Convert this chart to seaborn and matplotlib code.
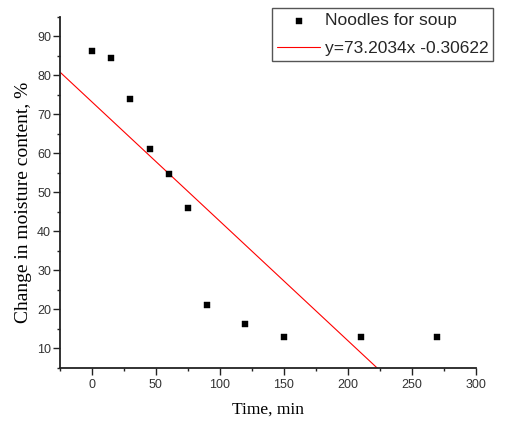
import numpy as np
import pandas as pd
import matplotlib
matplotlib.use("Agg")
import matplotlib.pyplot as plt
from matplotlib.ticker import MultipleLocator
import seaborn as sns

# Measured moisture change of soup noodles over drying time
time_min = [0, 15, 30, 45, 60, 75, 90, 120, 150, 210, 270]
moisture_change = [86.2, 84.4, 73.9, 61.2, 54.6, 45.9, 21.2, 16.1, 12.8, 12.8, 12.8]

# Linear fit parameters
fit_intercept = 73.2034
fit_slope = -0.30622
fit_label = "y=73.2034x -0.30622"
series_label = "Noodles for soup"

x_ticks = [0, 50, 100, 150, 200, 250, 300]
y_ticks = [10, 20, 30, 40, 50, 60, 70, 80, 90]

sns.set_theme(style="ticks")
plt.rcParams["font.family"] = ["Liberation Sans", "DejaVu Sans"]

fig = plt.figure(figsize=(5.07, 4.22), dpi=100)
ax = fig.add_axes([60 / 507, 1 - 367.7 / 422, (475.7 - 60) / 507, (367.7 - 17) / 422])

data = pd.DataFrame({"time": time_min, "moisture": moisture_change})
fit_x = np.array([-25.0, 300.0])
fit = pd.DataFrame({"time": fit_x, "moisture": fit_intercept + fit_slope * fit_x})

sns.lineplot(data=fit, x="time", y="moisture", ax=ax, color="#ff0000",
             linewidth=0.8, label=fit_label, legend=False)
sns.scatterplot(data=data, x="time", y="moisture", ax=ax, marker="s", s=20,
                color="black", edgecolor="black", linewidth=0.3,
                label=series_label, legend=False, zorder=3)

ax.set_xlim(-25, 300)
ax.set_ylim(5, 95)
ax.set_xticks(x_ticks)
ax.set_yticks(y_ticks)
ax.xaxis.set_minor_locator(MultipleLocator(25))
ax.yaxis.set_minor_locator(MultipleLocator(5))

for side in ("top", "right"):
    ax.spines[side].set_visible(False)
for side in ("left", "bottom"):
    ax.spines[side].set_linewidth(1.3)
    ax.spines[side].set_color("#222222")

ax.tick_params(which="major", direction="out", length=5, width=1.0,
               labelsize=9, colors="#222222", labelcolor="#333333")
ax.tick_params(axis="x", which="major", pad=3)
ax.tick_params(axis="y", which="major", pad=1.5)
ax.tick_params(which="minor", direction="out", length=2.5, width=1.0, colors="#222222")

serif = ["Liberation Serif", "DejaVu Serif"]
ax.set_xlabel("Time, min", fontsize=12.5, family=serif, color="black", labelpad=8)
ax.set_ylabel("Change in moisture content, %", fontsize=14, family=serif,
              color="black")
ax.yaxis.set_label_coords(-0.068, 0.47)

handles, labels = ax.get_legend_handles_labels()
order = [labels.index(series_label), labels.index(fit_label)]
leg = fig.legend([handles[i] for i in order], [labels[i] for i in order],
                 loc="upper left", bbox_to_anchor=(271.7 / 507, 1 - 8 / 422),
                 fontsize=12.5, frameon=True, fancybox=False, framealpha=1,
                 edgecolor="#555555", borderpad=0.3, handlelength=2.5,
                 handletextpad=0.25, labelspacing=0.7, borderaxespad=0,
                 markerscale=0.9)
leg.get_frame().set_linewidth(1.0)

fig.savefig("out.png", dpi=100, facecolor="white")
